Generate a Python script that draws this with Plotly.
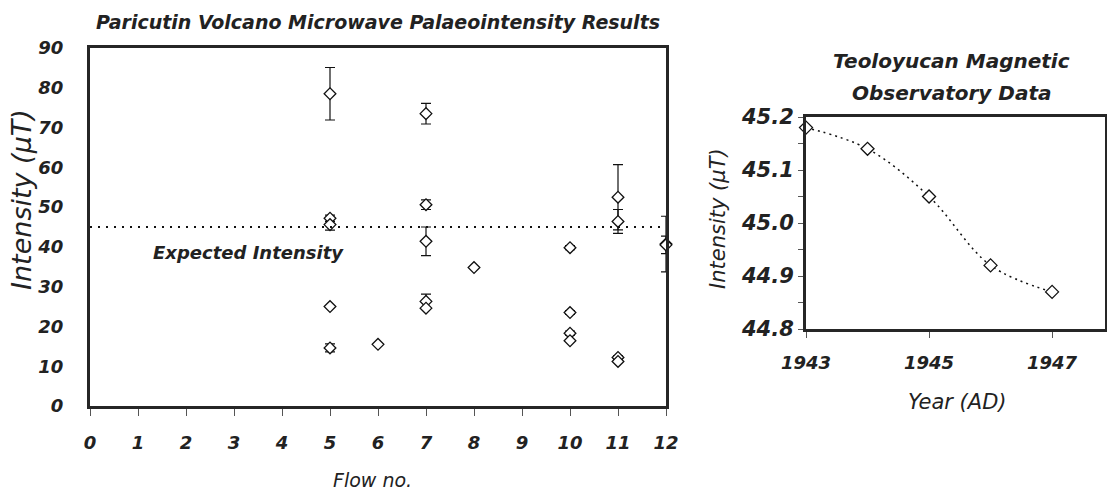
import plotly.graph_objects as go

# ---------------- data ----------------
flow_no = [5, 5, 5, 5, 5, 6, 7, 7, 7, 7, 7, 8, 10, 10, 10, 10, 11, 11, 11, 11, 12, 12]
intensity = [78.5, 47.2, 45.6, 25.0, 14.6, 15.5, 73.5, 50.6, 41.4, 26.3, 24.6, 34.8,
             39.8, 23.5, 18.3, 16.4, 52.5, 46.4, 12.2, 11.2, 40.7, 40.5]
intensity_err = [6.6, 0.8, 1.4, 0.0, 1.0, 0.0, 2.6, 1.2, 3.6, 1.8, 0.0, 0.0,
                 0.5, 0.5, 0.5, 0.0, 8.2, 3.0, 0.5, 0.0, 7.0, 2.2]
expected_intensity = 45.0
flow_ticks = list(range(0, 13))
intensity_ticks = list(range(0, 91, 10))

obs_year = [1943, 1944, 1945, 1946, 1947]
obs_intensity = [45.18, 45.14, 45.05, 44.92, 44.87]
obs_year_ticks = [1943, 1945, 1947]
obs_intensity_ticks = [44.8, 44.9, 45.0, 45.1, 45.2]

W, H = 1107, 491
FONT = "DejaVu Sans"
INK = "#222222"
FRAME = "#262626"


def px(x):
    return x / W


def py(y):
    return 1 - y / H


tick_font = dict(family=FONT, size=18, color=INK, weight="bold", style="italic")

fig = go.Figure()

# left panel: palaeointensity results
fig.add_trace(go.Scatter(
    x=flow_no, y=intensity, mode="markers",
    error_y=dict(type="data", array=intensity_err, visible=True,
                 color="#111111", thickness=1.2, width=5),
    marker=dict(symbol="diamond", size=9, color="white",
                line=dict(color="#111111", width=1.3)),
    cliponaxis=False, showlegend=False, xaxis="x", yaxis="y",
))

# expected intensity reference line
fig.add_trace(go.Scatter(
    x=[flow_ticks[0], flow_ticks[-1]], y=[expected_intensity, expected_intensity],
    mode="lines", line=dict(color="#111111", width=2, dash="2px,6px"),
    showlegend=False, xaxis="x", yaxis="y", hoverinfo="skip",
))

# right panel: observatory data
fig.add_trace(go.Scatter(
    x=obs_year, y=obs_intensity, mode="lines+markers",
    line=dict(color="#111111", width=1.5, dash="2px,4px", shape="spline"),
    marker=dict(symbol="diamond", size=10, color="white",
                line=dict(color="#111111", width=1.3)),
    cliponaxis=False, showlegend=False, xaxis="x2", yaxis="y2",
))

common = dict(showline=True, linecolor=FRAME, linewidth=3, mirror=True,
              showgrid=False, zeroline=False, automargin=False)

fig.update_layout(
    width=W, height=H,
    margin=dict(l=0, r=0, t=0, b=0, autoexpand=False),
    paper_bgcolor="white", plot_bgcolor="white",
    xaxis=dict(
        domain=[px(90), px(666)], range=[0, 12],
        tickmode="array", tickvals=flow_ticks, ticktext=[str(v) for v in flow_ticks],
        ticks="outside", ticklen=7, tickwidth=1, tickcolor="#555555",
        ticklabelstandoff=11, tickfont=tick_font, anchor="y", **common,
    ),
    yaxis=dict(
        domain=[py(406), py(48)], range=[0, 90],
        tickmode="array", tickvals=intensity_ticks, ticktext=[str(v) for v in intensity_ticks],
        ticks="", ticklabelstandoff=20, tickfont=tick_font, anchor="x", **common,
    ),
    xaxis2=dict(
        domain=[px(806), px(1105)], range=[1943, 1947.86],
        tickmode="array", tickvals=obs_year_ticks, ticktext=[str(v) for v in obs_year_ticks],
        ticks="outside", ticklen=6, tickwidth=1, tickcolor="#555555",
        ticklabelstandoff=9, tickfont=tick_font, anchor="y2", **common,
    ),
    yaxis2=dict(
        domain=[py(329), py(117)], range=[44.8, 45.2],
        tickmode="array", tickvals=obs_intensity_ticks,
        ticktext=[f"{v:.1f}" for v in obs_intensity_ticks],
        ticks="outside", ticklen=5, tickwidth=1, tickcolor="#555555",
        minor=dict(dtick=0.05, ticks="outside", ticklen=5, tickwidth=1, tickcolor="#555555"),
        ticklabelstandoff=0,
        tickfont=dict(family=FONT, size=21, color=INK, weight="bold", style="italic"),
        anchor="x2", **common,
    ),
)

title_font = dict(family=FONT, size=19, color=INK, weight="bold", style="italic")
rtitle_font = dict(family=FONT, size=20, color=INK, weight="bold", style="italic")

annotations = [
    dict(text="Paricutin Volcano Microwave Palaeointensity Results",
         x=px(378), y=py(22), font=title_font),
    dict(text="Teoloyucan Magnetic", x=px(951), y=py(61), font=rtitle_font),
    dict(text="Observatory Data", x=px(952), y=py(93), font=rtitle_font),
    dict(text="Intensity (\u03bcT)", x=px(21), y=py(200), textangle=-90,
         font=dict(family=FONT, size=27, color=INK, style="italic")),
    dict(text="Intensity (\u03bcT)", x=px(718), y=py(219), textangle=-90,
         font=dict(family=FONT, size=21, color=INK, style="italic")),
    dict(text="Flow no.", x=px(372), y=py(480), font=dict(family=FONT, size=19, color=INK,
                                                          style="italic")),
    dict(text="Year (AD)", x=px(957), y=py(402), font=dict(family=FONT, size=21, color=INK,
                                                           style="italic")),
]
for a in annotations:
    fig.add_annotation(xref="paper", yref="paper", showarrow=False,
                       xanchor="center", yanchor="middle", **a)

fig.add_annotation(text="Expected Intensity", x=3.3, y=38.7, xref="x", yref="y",
                   showarrow=False, xanchor="center", yanchor="middle",
                   font=dict(family=FONT, size=18, color=INK, weight="bold", style="italic"))

fig.write_html("out.html")
